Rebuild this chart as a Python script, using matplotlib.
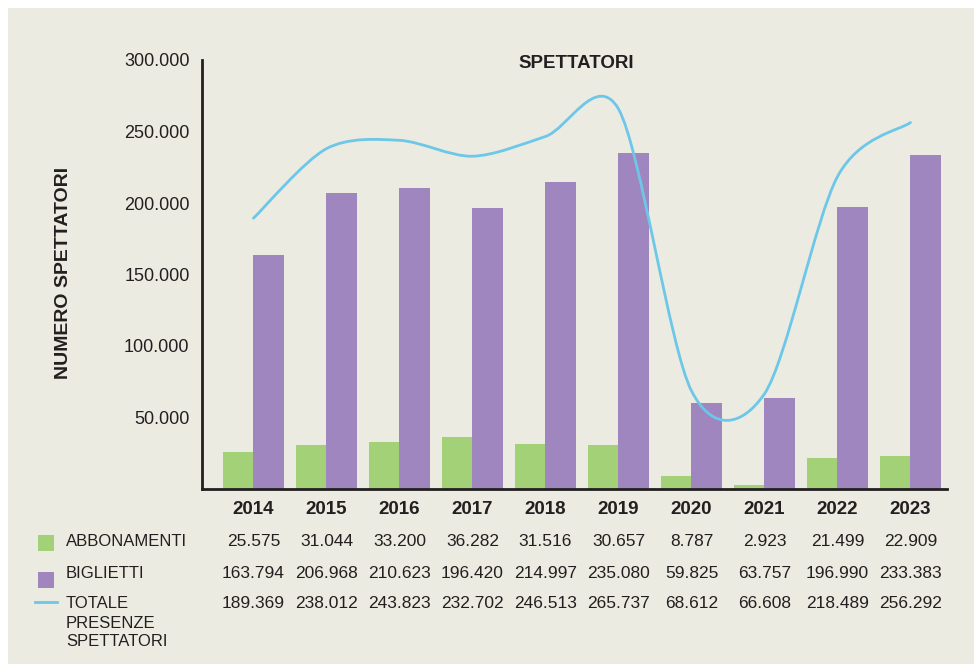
import matplotlib
matplotlib.use("Agg")
import matplotlib.pyplot as plt
import numpy as np
from matplotlib.path import Path
from matplotlib.patches import PathPatch, Rectangle
from matplotlib.lines import Line2D
from matplotlib.transforms import blended_transform_factory

# ---------------------------------------------------------------- data
years = ["2014", "2015", "2016", "2017", "2018", "2019", "2020", "2021", "2022", "2023"]
abbonamenti = [25575, 31044, 33200, 36282, 31516, 30657, 8787, 2923, 21499, 22909]
biglietti = [163794, 206968, 210623, 196420, 214997, 235080, 59825, 63757, 196990, 233383]
totale = [189369, 238012, 243823, 232702, 246513, 265737, 68612, 66608, 218489, 256292]
y_ticks = [50000, 100000, 150000, 200000, 250000, 300000]

# ---------------------------------------------------------------- style
BG = "#ECEBE1"
GREEN = "#A3D177"
PURPLE = "#A086BE"
BLUE = "#6CC7E8"
INK = "#231F20"
plt.rcParams["font.family"] = ["Liberation Sans", "DejaVu Sans"]

W, H = 974, 664
fig = plt.figure(figsize=(W / 100, H / 100), dpi=100, facecolor="white")
fig.patches.append(Rectangle((8 / W, 0), 1 - 8 / W, (H - 8) / H,
                             transform=fig.transFigure, facecolor=BG,
                             edgecolor="none", zorder=-10))


def fx(px):
    return px / W


def fy(py):
    return 1 - py / H


def fmt(v):
    return f"{v:,}".replace(",", ".")


ax = fig.add_axes([fx(202), fy(489), fx(947) - fx(202), fy(60) - fy(489)])
ax.set_facecolor("none")

x = np.arange(len(years))
bw = 0.42
ax.bar(x - bw / 2, abbonamenti, width=bw, color=GREEN, zorder=2)
ax.bar(x + bw / 2, biglietti, width=bw, color=PURPLE, zorder=2)

# linea smussata (Catmull-Rom -> Bezier cubiche) sui valori totali
k = 0.15
pts = np.column_stack([x, totale]).astype(float)
ext = np.vstack([pts[0], pts, pts[-1]])
verts = [tuple(pts[0])]
codes = [Path.MOVETO]
for i in range(len(pts) - 1):
    p0, p1, p2, p3 = ext[i], ext[i + 1], ext[i + 2], ext[i + 3]
    verts += [tuple(p1 + (p2 - p0) * k), tuple(p2 - (p3 - p1) * k), tuple(p2)]
    codes += [Path.CURVE4] * 3
ax.add_patch(PathPatch(Path(verts, codes), facecolor="none", edgecolor=BLUE,
                       lw=2.0, zorder=3, capstyle="round"))

ax.set_xlim(-0.705, 9.5)
ax.set_ylim(0, 300000)
ax.set_yticks(y_ticks, [fmt(v) for v in y_ticks])
ax.set_xticks(x, years)
ax.tick_params(axis="y", length=0, pad=9, labelsize=13, labelcolor=INK)
ax.tick_params(axis="x", length=0, pad=9, labelsize=13.5, labelcolor=INK)
for lab in ax.get_xticklabels():
    lab.set_fontweight("bold")
for s in ["top", "right"]:
    ax.spines[s].set_visible(False)
for s in ["left", "bottom"]:
    ax.spines[s].set_color(INK)
    ax.spines[s].set_linewidth(2)
    ax.spines[s].set_zorder(4)

fig.text(fx(576), fy(63), "SPETTATORI", ha="center", va="center",
         fontsize=13.5, fontweight="bold", color=INK)
fig.text(fx(64), fy(273), "NUMERO SPETTATORI", rotation=90, ha="center",
         va="center", fontsize=14, fontweight="bold", color=INK)

# ---------------------------------------------------------------- tabella
tr = blended_transform_factory(ax.transData, fig.transFigure)
rows = [(["ABBONAMENTI"], abbonamenti, 542),
        (["BIGLIETTI"], biglietti, 573),
        (["TOTALE", "PRESENZE", "SPETTATORI"], totale, 604)]
for lines, vals, ypx in rows:
    for j, line in enumerate(lines):
        fig.text(fx(66), fy(ypx + 19 * j), line, ha="left", va="center",
                 fontsize=12, color=INK)
    for xi, v in zip(x, vals):
        ax.text(xi, fy(ypx), fmt(v), transform=tr, ha="center", va="center",
                fontsize=12.5, color=INK, clip_on=False)

fig.patches.append(Rectangle((fx(38), fy(551)), fx(16), 16 / H,
                             transform=fig.transFigure, facecolor=GREEN, edgecolor="none"))
fig.patches.append(Rectangle((fx(38), fy(588)), fx(16), 16 / H,
                             transform=fig.transFigure, facecolor=PURPLE, edgecolor="none"))
fig.lines.append(Line2D([fx(35), fx(57)], [fy(602), fy(602)],
                        transform=fig.transFigure, color=BLUE, lw=2))

fig.savefig("out.png", dpi=100, facecolor="white")
